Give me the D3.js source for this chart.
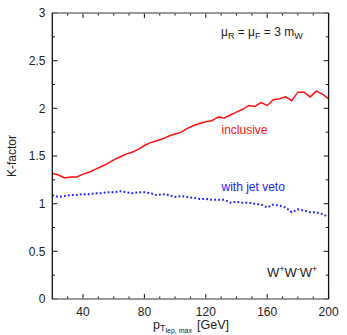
<!DOCTYPE html>
<html><head><meta charset="utf-8">
<script src="https://cdn.jsdelivr.net/npm/d3@7"></script>
<style>body{margin:0;background:#fff}svg{display:block}text{font-family:"Liberation Sans",Arial,Helvetica,sans-serif;fill:#222}</style>
</head><body><svg id="c" width="347" height="335"></svg>
<script>
const pt = [20,24,28,32,36,40,44,48,52,56,60,64,68,72,76,80,84,88,92,96,100,104,108,112,116,120,124,128,132,136,140,144,148,152,156,160,164,168,172,176,180,184,188,192,196,200];
const inclusive = [1.32,1.30,1.27,1.28,1.28,1.31,1.33,1.36,1.39,1.42,1.46,1.49,1.52,1.54,1.57,1.61,1.64,1.66,1.68,1.71,1.73,1.75,1.79,1.82,1.84,1.86,1.87,1.91,1.90,1.93,1.96,1.99,2.03,2.02,2.06,2.03,2.09,2.10,2.12,2.08,2.17,2.17,2.12,2.18,2.15,2.10];
const jetVeto = [1.09,1.07,1.08,1.09,1.09,1.10,1.10,1.11,1.11,1.12,1.12,1.13,1.12,1.11,1.12,1.12,1.11,1.09,1.10,1.09,1.07,1.08,1.07,1.06,1.05,1.05,1.04,1.04,1.04,1.01,1.02,1.01,1.01,1.00,0.99,0.96,0.99,0.98,0.96,0.91,0.94,0.93,0.91,0.91,0.89,0.86];
const xMajor = [40,80,120,160,200];
const xMinor = [30,50,60,70,90,100,110,130,140,150,170,180,190];
const yMajor = [0,0.5,1,1.5,2,2.5,3];
const yMinor = [0.25,0.75,1.25,1.75,2.25,2.75];

const svg = d3.select("#c");
const L=52.3, R=328.6, T=13, B=299;
const x = d3.scaleLinear().domain([20,200]).range([L,R]);
const y = d3.scaleLinear().domain([0,3]).range([B,T]);

// curves
const line = d3.line().x((d,i)=>x(pt[i])).y(d=>y(d));
svg.append("path").datum(inclusive).attr("d",line).attr("fill","none").attr("stroke","#ff1010").attr("stroke-width",1.5);
svg.append("path").datum(jetVeto).attr("d",line).attr("fill","none").attr("stroke","#2020ff").attr("stroke-width",2).attr("stroke-dasharray","1.8,2.2");

// ticks
const g = svg.append("g").attr("stroke","#111").attr("stroke-width",1);
xMajor.forEach(v=>{
  g.append("line").attr("x1",x(v)).attr("x2",x(v)).attr("y1",B).attr("y2",B-5);
  g.append("line").attr("x1",x(v)).attr("x2",x(v)).attr("y1",T).attr("y2",T+5);
});
xMinor.forEach(v=>{
  g.append("line").attr("x1",x(v)).attr("x2",x(v)).attr("y1",B).attr("y2",B-2.5);
  g.append("line").attr("x1",x(v)).attr("x2",x(v)).attr("y1",T).attr("y2",T+2.5);
});
yMajor.forEach(v=>{
  g.append("line").attr("x1",L).attr("x2",L+5).attr("y1",y(v)).attr("y2",y(v));
  g.append("line").attr("x1",R).attr("x2",R-5).attr("y1",y(v)).attr("y2",y(v));
});
yMinor.forEach(v=>{
  g.append("line").attr("x1",L).attr("x2",L+2.7).attr("y1",y(v)).attr("y2",y(v));
  g.append("line").attr("x1",R).attr("x2",R-2.7).attr("y1",y(v)).attr("y2",y(v));
});

// frame
svg.append("line").attr("x1",L).attr("x2",R).attr("y1",T).attr("y2",T).attr("stroke","#777").attr("stroke-width",1.5);
svg.append("line").attr("x1",L).attr("x2",R).attr("y1",B).attr("y2",B).attr("stroke","#777").attr("stroke-width",1.5);
svg.append("line").attr("x1",L).attr("x2",L).attr("y1",T).attr("y2",B).attr("stroke","#111").attr("stroke-width",1.3);
svg.append("line").attr("x1",R).attr("x2",R).attr("y1",T).attr("y2",B).attr("stroke","#111").attr("stroke-width",1.3);

// tick labels
svg.selectAll(".xl").data(xMajor).enter().append("text").attr("x",d=>x(d)).attr("y",315.5).attr("text-anchor","middle").attr("font-size",12).text(d=>d);
svg.selectAll(".yl").data(yMajor).enter().append("text").attr("x",45.5).attr("y",d=>y(d)+4.3).attr("text-anchor","end").attr("font-size",12).text(d=>d);

// axis titles
svg.append("text").attr("transform","translate(16,156) rotate(-90)").attr("text-anchor","middle").attr("font-size",12).text("K-factor");
const xt = svg.append("text").attr("x",153).attr("y",328.5).attr("font-size",12.5);
xt.append("tspan").text("p");
xt.append("tspan").attr("font-size",9).attr("dy",2.5).text("T");
xt.append("tspan").attr("font-size",7).attr("dy",2).text("lep, max");
svg.append("text").attr("x",197).attr("y",329).attr("font-size",12.5).text("[GeV]");

// annotations
const mu = svg.append("text").attr("x",221).attr("y",36).attr("font-size",12);
mu.append("tspan").text("μ");
mu.append("tspan").attr("font-size",9).attr("dy",3).text("R");
mu.append("tspan").attr("dy",-3).text(" = μ");
mu.append("tspan").attr("font-size",9).attr("dy",3).text("F");
mu.append("tspan").attr("dy",-3).text(" = 3 m");
mu.append("tspan").attr("font-size",9).attr("dy",3).text("W");

svg.append("text").attr("x",221.5).attr("y",134).attr("font-size",12).style("fill","#ff1010").text("inclusive");
svg.append("text").attr("x",221.5).attr("y",191).attr("font-size",12).style("fill","#2020ff").text("with jet veto");

const w = svg.append("text").attr("x",267).attr("y",277).attr("font-size",13);
w.append("tspan").text("W");
w.append("tspan").attr("font-size",9).attr("dy",-5).text("+");
w.append("tspan").attr("dy",5).text("W");
w.append("tspan").attr("font-size",9).attr("dy",-5).text("-");
w.append("tspan").attr("dy",5).text("W");
w.append("tspan").attr("font-size",9).attr("dy",-5).text("+");
</script></body></html>
